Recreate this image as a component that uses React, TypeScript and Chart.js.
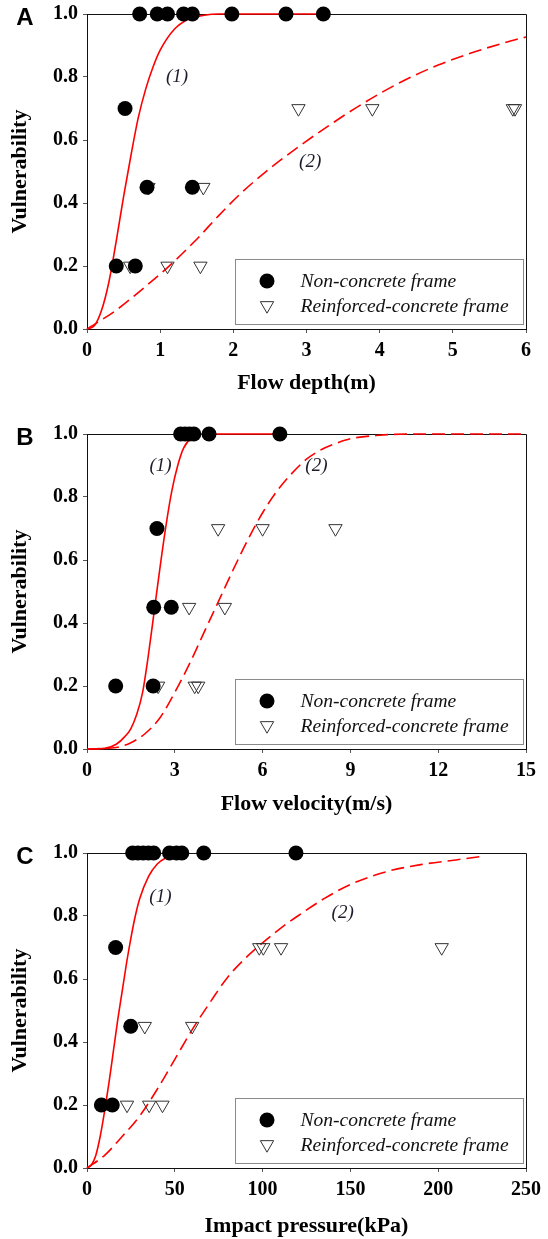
import React, { useEffect, useRef } from 'react';
import { Chart, registerables } from 'chart.js';

Chart.register(...registerables);

// ---------- shared ----------
const yTickValues = [0, 0.2, 0.4, 0.6, 0.8, 1.0];
const yTickLabels = ['0.0', '0.2', '0.4', '0.6', '0.8', '1.0'];
const legendLabels = ['Non-concrete frame', 'Reinforced-concrete frame'];
const curveLabels = ['(1)', '(2)'];

// ---------- Panel A: flow depth ----------
const depthTicks = [0, 1, 2, 3, 4, 5, 6];
const depthNonX = [0.72, 0.96, 1.1, 1.32, 1.44, 1.98, 2.72, 3.23, 0.52, 0.82, 1.44, 0.4, 0.66];
const depthNonY = [1, 1, 1, 1, 1, 1, 1, 1, 0.7, 0.45, 0.45, 0.2, 0.2];
const depthRcX = [2.89, 3.9, 5.82, 5.85, 0.84, 1.59, 0.59, 1.1, 1.55];
const depthRcY = [0.7, 0.7, 0.7, 0.7, 0.45, 0.45, 0.2, 0.2, 0.2];
const depthC1X = [0, 0.1, 0.2, 0.3, 0.4, 0.5, 0.6, 0.7, 0.8, 0.9, 1.0, 1.2, 1.4, 1.6, 1.8, 3.23];
const depthC1Y = [0, 0.01, 0.06, 0.15, 0.28, 0.42, 0.55, 0.67, 0.76, 0.83, 0.885, 0.953, 0.985, 0.996, 1.0, 1.0];
const depthC2X = [0, 0.4, 0.8, 1.1, 1.5, 1.8, 2.1, 2.5, 2.9, 3.3, 3.8, 4.3, 4.8, 5.3, 5.8, 6];
const depthC2Y = [0, 0.06, 0.135, 0.195, 0.285, 0.36, 0.43, 0.51, 0.58, 0.645, 0.72, 0.785, 0.838, 0.88, 0.915, 0.927];
const depthLabelPos = [[1.23, 0.8], [3.05, 0.53]];

// ---------- Panel B: flow velocity ----------
const velTicks = [0, 3, 6, 9, 12, 15];
const velNonX = [3.2, 3.35, 3.5, 3.65, 4.17, 6.59, 2.39, 2.28, 2.88, 0.98, 2.26];
const velNonY = [1, 1, 1, 1, 1, 1, 0.7, 0.45, 0.45, 0.2, 0.2];
const velRcX = [4.48, 6.0, 8.49, 3.49, 4.71, 2.43, 3.68, 3.8];
const velRcY = [0.7, 0.7, 0.7, 0.45, 0.45, 0.2, 0.2, 0.2];
const velC1X = [0, 0.6, 1.0, 1.3, 1.5, 1.7, 1.9, 2.1, 2.3, 2.5, 2.7, 2.9, 3.1, 3.3, 3.6, 4.0, 6.6];
const velC1Y = [0, 0.002, 0.015, 0.04, 0.065, 0.11, 0.18, 0.3, 0.44, 0.58, 0.71, 0.82, 0.9, 0.955, 0.99, 1.0, 1.0];
const velC2X = [0, 1.0, 1.5, 2.0, 2.5, 3.0, 3.5, 4.0, 4.5, 5.0, 5.5, 6.0, 6.5, 7.0, 7.5, 8.0, 8.5, 9.0, 10.0, 11.0, 15];
const velC2Y = [0, 0.005, 0.02, 0.05, 0.1, 0.18, 0.27, 0.37, 0.47, 0.57, 0.665, 0.75, 0.82, 0.875, 0.92, 0.95, 0.97, 0.985, 0.996, 1.0, 1.0];
const velLabelPos = [[2.51, 0.9], [7.84, 0.9]];

// ---------- Panel C: impact pressure ----------
const presTicks = [0, 50, 100, 150, 200, 250];
const presNonX = [26, 29, 32, 35, 38, 47, 51, 54, 66.5, 119, 16.3, 24.9, 8.2, 14.4];
const presNonY = [1, 1, 1, 1, 1, 1, 1, 1, 1, 1, 0.7, 0.45, 0.2, 0.2];
const presRcX = [98.1, 100.4, 110.5, 202, 32.9, 59.9, 22.8, 35.4, 43.0];
const presRcY = [0.7, 0.7, 0.7, 0.7, 0.45, 0.45, 0.2, 0.2, 0.2];
const presC1X = [0, 2.5, 5, 7.5, 10, 12.5, 15, 17.5, 20, 22.5, 25, 27.5, 30, 35, 40, 45, 50, 54.8];
const presC1Y = [0, 0.01, 0.04, 0.1, 0.18, 0.27, 0.37, 0.47, 0.56, 0.65, 0.73, 0.8, 0.855, 0.925, 0.965, 0.985, 0.995, 0.998];
const presC2X = [0, 10, 20, 30, 40, 50, 60, 70, 80, 90, 100, 110, 120, 135, 150, 170, 190, 210, 226];
const presC2Y = [0, 0.04, 0.1, 0.165, 0.25, 0.345, 0.44, 0.525, 0.605, 0.665, 0.715, 0.76, 0.8, 0.855, 0.9, 0.94, 0.963, 0.978, 0.99];
const presLabelPos = [[41.8, 0.86], [145.6, 0.81]];

const pts = (xs: number[], ys: number[]) => xs.map((x, i) => ({ x, y: ys[i] }));

type Spec = {
  letter: string;
  xTitle: string;
  xTicks: number[];
  nonX: number[]; nonY: number[];
  rcX: number[]; rcY: number[];
  c1X: number[]; c1Y: number[];
  c2X: number[]; c2Y: number[];
  labelPos: number[][];
  top: number;
  height: number;
  xAxisH: number;
};

const panels: Spec[] = [
  { letter: 'A', xTitle: 'Flow depth(m)', xTicks: depthTicks, nonX: depthNonX, nonY: depthNonY, rcX: depthRcX, rcY: depthRcY, c1X: depthC1X, c1Y: depthC1Y, c2X: depthC2X, c2Y: depthC2Y, labelPos: depthLabelPos, top: 0, height: 397, xAxisH: 68 },
  { letter: 'B', xTitle: 'Flow velocity(m/s)', xTicks: velTicks, nonX: velNonX, nonY: velNonY, rcX: velRcX, rcY: velRcY, c1X: velC1X, c1Y: velC1Y, c2X: velC2X, c2Y: velC2Y, labelPos: velLabelPos, top: 420, height: 398, xAxisH: 69 },
  { letter: 'C', xTitle: 'Impact pressure(kPa)', xTicks: presTicks, nonX: presNonX, nonY: presNonY, rcX: presRcX, rcY: presRcY, c1X: presC1X, c1Y: presC1Y, c2X: presC2X, c2Y: presC2Y, labelPos: presLabelPos, top: 839, height: 401, xAxisH: 72 },
];

const SERIF = '"Liberation Serif", "Times New Roman", serif';

const framePlugin = {
  id: 'frame',
  beforeDatasetsDraw(chart: any) {
    const { ctx, chartArea: a } = chart;
    ctx.save();
    ctx.strokeStyle = '#111';
    ctx.lineWidth = 1;
    ctx.beginPath();
    ctx.moveTo(a.left, Math.round(a.top) + 0.5);
    ctx.lineTo(Math.round(a.right) + 0.5, Math.round(a.top) + 0.5);
    ctx.lineTo(Math.round(a.right) + 0.5, a.bottom);
    ctx.stroke();
    ctx.restore();
  },
};

const decorPlugin = {
  id: 'decor',
  afterDraw(chart: any) {
    const spec: Spec = chart.options.plugins.decor.spec;
    const { ctx, chartArea: a, scales } = chart;
    const xs = scales.x, ys = scales.y;
    ctx.save();
    // panel letter
    ctx.fillStyle = '#000';
    ctx.font = 'bold 24px "Liberation Sans", Arial, sans-serif';
    ctx.textAlign = 'center';
    ctx.textBaseline = 'middle';
    ctx.fillText(spec.letter, 25, a.top + 4);
    // curve labels
    ctx.font = 'italic 19px ' + SERIF;
    ctx.fillStyle = '#1c1c2a';
    spec.labelPos.forEach((p, i) => {
      ctx.fillText(curveLabels[i], xs.getPixelForValue(p[0]), ys.getPixelForValue(p[1]));
    });
    // legend box
    const L = Math.round(a.left + 148) + 0.5;
    const R = Math.round(a.right - 3) + 0.5;
    const B = Math.round(a.bottom - 5) + 0.5;
    const T = B - 65;
    ctx.fillStyle = '#fff';
    ctx.fillRect(L, T, R - L, B - T);
    ctx.strokeStyle = '#8a8a8a';
    ctx.lineWidth = 1;
    ctx.strokeRect(L, T, R - L, B - T);
    const sx = L + 31.5;
    const r1 = T + 21.5, r2 = T + 46;
    ctx.fillStyle = '#000';
    ctx.beginPath();
    ctx.arc(sx, r1, 7.5, 0, Math.PI * 2);
    ctx.fill();
    const tr = 7.7;
    ctx.strokeStyle = '#333';
    ctx.beginPath();
    ctx.moveTo(sx, r2 + tr);
    ctx.lineTo(sx - tr * Math.sin(Math.PI / 3), r2 - tr / 2);
    ctx.lineTo(sx + tr * Math.sin(Math.PI / 3), r2 - tr / 2);
    ctx.closePath();
    ctx.stroke();
    ctx.fillStyle = '#111';
    ctx.font = 'italic 19.5px ' + SERIF;
    ctx.textAlign = 'left';
    ctx.fillText(legendLabels[0], L + 65, r1 + 1);
    ctx.fillText(legendLabels[1], L + 65, r2 + 1);
    ctx.restore();
  },
};

function buildConfig(spec: Spec): any {
  const tickFont = { family: SERIF, size: 20, weight: 'bold' };
  const titleFont = { family: SERIF, size: 22, weight: 'bold' };
  return {
    type: 'scatter',
    data: {
      datasets: [
        {
          label: legendLabels[0],
          data: pts(spec.nonX, spec.nonY),
          pointStyle: 'circle',
          pointRadius: 7.5,
          pointBackgroundColor: '#000',
          pointBorderColor: '#000',
          pointBorderWidth: 0,
          clip: false,
        },
        {
          label: legendLabels[1],
          data: pts(spec.rcX, spec.rcY),
          pointStyle: 'triangle',
          pointRotation: 180,
          pointRadius: 7.7,
          pointBackgroundColor: 'rgba(0,0,0,0)',
          pointBorderColor: '#333',
          pointBorderWidth: 1,
          clip: false,
        },
        {
          label: 'curve1',
          data: pts(spec.c1X, spec.c1Y),
          showLine: true,
          pointRadius: 0,
          borderColor: '#ff0000',
          borderWidth: 1.6,
          cubicInterpolationMode: 'monotone',
          clip: false,
        },
        {
          label: 'curve2',
          data: pts(spec.c2X, spec.c2Y),
          showLine: true,
          pointRadius: 0,
          borderColor: '#ff0000',
          borderWidth: 1.6,
          borderDash: [13, 6],
          cubicInterpolationMode: 'monotone',
          clip: false,
        },
      ],
    },
    options: {
      animation: false,
      responsive: false,
      devicePixelRatio: 1,
      events: [],
      layout: { padding: { top: 14, right: 22, left: 0, bottom: 0 } },
      plugins: {
        legend: { display: false },
        tooltip: { enabled: false },
        decor: { spec },
      },
      scales: {
        x: {
          type: 'linear',
          min: spec.xTicks[0],
          max: spec.xTicks[spec.xTicks.length - 1],
          afterBuildTicks: (s: any) => { s.ticks = spec.xTicks.map((v) => ({ value: v })); },
          ticks: { font: tickFont, color: '#000', padding: 6, maxRotation: 0, autoSkip: false, callback: (v: number) => String(v) },
          grid: { display: true, drawOnChartArea: false, drawTicks: true, tickLength: 4, color: '#555', lineWidth: 1 },
          border: { display: true, color: '#111', width: 1 },
          title: { display: true, text: spec.xTitle, font: titleFont, color: '#000', padding: { top: 0, bottom: 0 } },
          afterFit: (s: any) => { s.height = spec.xAxisH; s.paddingLeft = 0; s.paddingRight = 0; },
        },
        y: {
          type: 'linear',
          min: 0,
          max: 1,
          afterBuildTicks: (s: any) => { s.ticks = yTickValues.map((v) => ({ value: v })); },
          ticks: {
            font: tickFont, color: '#000', padding: 5, autoSkip: false,
            callback: (v: number) => yTickLabels[yTickValues.findIndex((t) => Math.abs(t - v) < 1e-6)] ?? '',
          },
          grid: { display: true, drawOnChartArea: false, drawTicks: true, tickLength: 4, color: '#555', lineWidth: 1 },
          border: { display: true, color: '#111', width: 1 },
          title: { display: true, text: 'Vulnerability', font: titleFont, color: '#000', padding: { top: 7, bottom: 0 } },
          afterFit: (s: any) => { s.width = 87; s.paddingTop = 0; s.paddingBottom = 0; },
        },
      },
    },
    plugins: [framePlugin, decorPlugin],
  };
}

function Panel({ spec }: { spec: Spec }) {
  const ref = useRef<HTMLCanvasElement>(null);
  useEffect(() => {
    const chart = new Chart(ref.current as HTMLCanvasElement, buildConfig(spec));
    return () => chart.destroy();
  }, [spec]);
  return (
    <canvas
      ref={ref}
      width={548}
      height={spec.height}
      style={{ position: 'absolute', left: 0, top: spec.top, width: 548, height: spec.height, display: 'block' }}
    />
  );
}

export default function App() {
  return (
    <div style={{ position: 'absolute', left: 0, top: 0, width: 548, height: 1239, overflow: 'hidden', background: '#fff' }}>
      {panels.map((p) => (
        <Panel key={p.letter} spec={p} />
      ))}
    </div>
  );
}
